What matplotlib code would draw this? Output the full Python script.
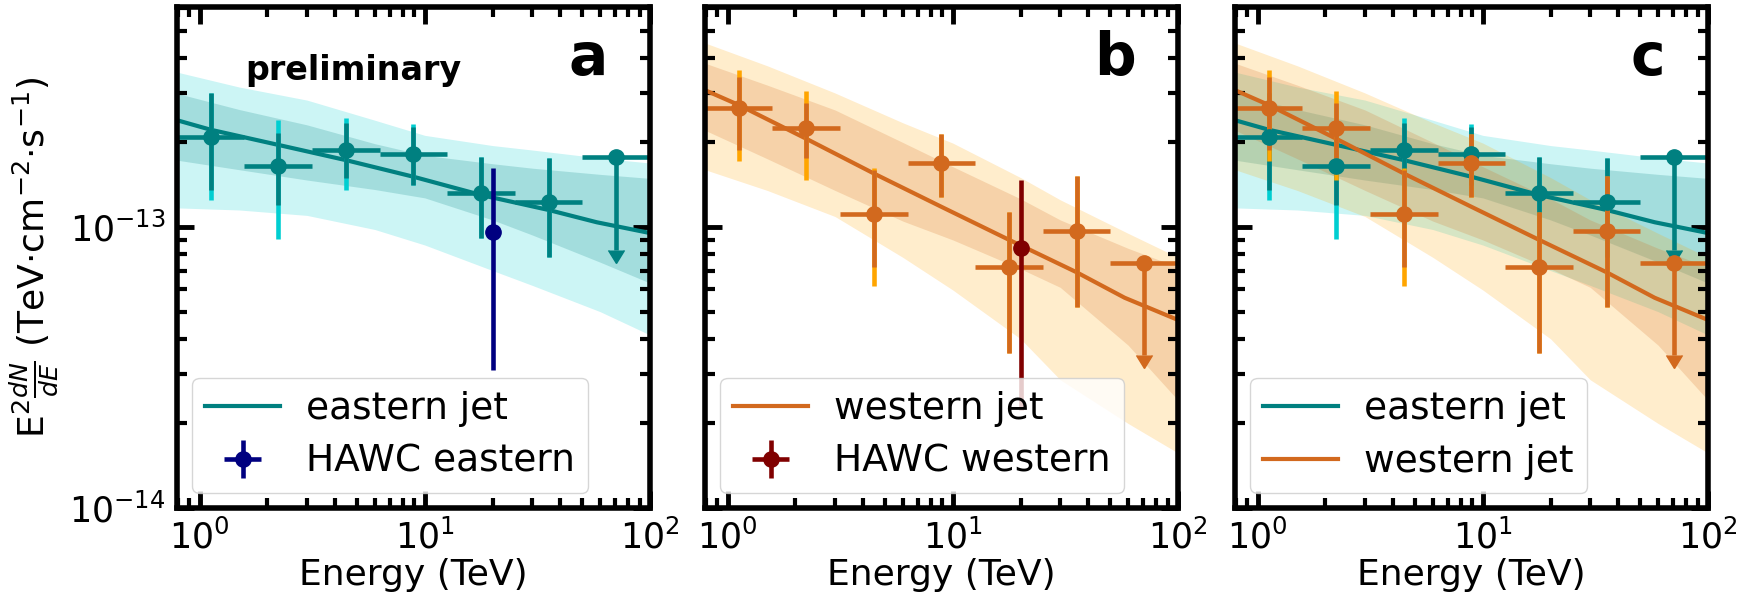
import numpy as np
import matplotlib.pyplot as plt
from matplotlib.ticker import FixedLocator, NullFormatter

# energy bins (TeV)
energy = [1.12, 2.24, 4.47, 8.91, 17.8, 35.5]
e_lo = [0.794, 1.58, 3.16, 6.31, 12.6, 25.1]
e_hi = [1.58, 3.16, 6.31, 12.6, 25.1, 50.1]
ul_energy = [70.8]
ul_lo = [50.1]
ul_hi = [100.0]

# eastern jet flux points (TeV cm-2 s-1)
east_flux = [2.09e-13, 1.65e-13, 1.88e-13, 1.82e-13, 1.32e-13, 1.23e-13]
east_stat_lo = [1.35e-13, 1.20e-13, 1.49e-13, 1.41e-13, 0.914e-13, 0.782e-13]
east_stat_hi = [2.99e-13, 2.16e-13, 2.34e-13, 2.27e-13, 1.77e-13, 1.76e-13]
east_tot_lo = [1.25e-13, 0.906e-13, 1.35e-13, 1.41e-13, 0.914e-13, 0.782e-13]
east_tot_hi = [2.99e-13, 2.40e-13, 2.44e-13, 2.32e-13, 1.77e-13, 1.76e-13]
east_ul = [1.77e-13]
east_ul_end = [0.83e-13]

# western jet flux points
west_flux = [2.65e-13, 2.25e-13, 1.11e-13, 1.69e-13, 0.72e-13, 0.97e-13]
west_stat_lo = [1.88e-13, 1.76e-13, 0.72e-13, 1.28e-13, 0.356e-13, 0.519e-13]
west_stat_hi = [3.42e-13, 2.76e-13, 1.60e-13, 2.14e-13, 1.13e-13, 1.52e-13]
west_tot_lo = [1.72e-13, 1.47e-13, 0.617e-13, 1.28e-13, 0.356e-13, 0.519e-13]
west_tot_hi = [3.62e-13, 3.06e-13, 1.62e-13, 2.14e-13, 1.13e-13, 1.52e-13]
west_ul = [0.745e-13]
west_ul_end = [0.35e-13]

# HAWC points
hawc_e = [20.0]
hawc_xerr = [0.0]
hawc_east = [0.96e-13]
hawc_east_lo = [0.31e-13]
hawc_east_hi = [1.62e-13]
hawc_west = [0.842e-13]
hawc_west_lo = [0.223e-13]
hawc_west_hi = [1.47e-13]

# best-fit models
model_e = [0.794, 1.12, 2.24, 4.47, 8.91, 17.8, 35.5, 58.0, 100.0]
east_model = [2.40e-13, 2.22e-13, 1.96e-13, 1.73e-13, 1.51e-13, 1.30e-13, 1.15e-13, 1.04e-13, 0.952e-13]
west_model = [3.07e-13, 2.72e-13, 2.06e-13, 1.55e-13, 1.18e-13, 0.90e-13, 0.69e-13, 0.56e-13, 0.467e-13]

# uncertainty bands
band_e = [0.794, 1.5, 3.0, 6.0, 10.0, 20.0, 30.0, 60.0, 100.0]
east_out_hi = [3.56e-13, 3.15e-13, 2.83e-13, 2.40e-13, 2.12e-13, 1.95e-13, 1.88e-13, 1.76e-13, 1.69e-13]
east_in_hi = [2.99e-13, 2.62e-13, 2.31e-13, 1.98e-13, 1.80e-13, 1.68e-13, 1.62e-13, 1.54e-13, 1.49e-13]
east_in_lo = [1.73e-13, 1.60e-13, 1.47e-13, 1.36e-13, 1.27e-13, 1.06e-13, 0.937e-13, 0.75e-13, 0.632e-13]
east_out_lo = [1.17e-13, 1.15e-13, 1.10e-13, 0.98e-13, 0.863e-13, 0.70e-13, 0.62e-13, 0.50e-13, 0.413e-13]
west_out_hi = [4.52e-13, 3.75e-13, 3.00e-13, 2.35e-13, 1.99e-13, 1.50e-13, 1.25e-13, 0.95e-13, 0.78e-13]
west_in_hi = [3.83e-13, 3.20e-13, 2.61e-13, 2.00e-13, 1.64e-13, 1.26e-13, 1.06e-13, 0.84e-13, 0.72e-13]
west_in_lo = [2.21e-13, 1.75e-13, 1.35e-13, 1.05e-13, 0.90e-13, 0.71e-13, 0.61e-13, 0.38e-13, 0.242e-13]
west_out_lo = [1.60e-13, 1.35e-13, 1.09e-13, 0.78e-13, 0.597e-13, 0.40e-13, 0.286e-13, 0.20e-13, 0.157e-13]

# axis ticks
x_major = [1, 10, 100]
y_major = [1e-14, 1e-13]

plt.rcParams['font.family'] = 'DejaVu Sans'
plt.rcParams['mathtext.fontset'] = 'dejavusans'

fig = plt.figure(figsize=(17.5, 5.96), dpi=100)
lefts = [177, 705, 1235]
axes = [fig.add_axes([l / 1750, 1 - 508 / 596, 473 / 1750, 501 / 596]) for l in lefts]


def asym(val, lo, hi):
    val = np.array(val)
    return [val - np.array(lo), np.array(hi) - val]


def draw_jet(ax, flux, stat_lo, stat_hi, tot_lo, tot_hi, ul, ul_end,
             out_hi, in_hi, in_lo, out_lo, model, col, light, label):
    ax.fill_between(band_e, out_lo, out_hi, color=light, alpha=0.2, lw=0)
    ax.fill_between(band_e, in_lo, in_hi, color=col, alpha=0.2, lw=0)
    ax.plot(model_e, model, color=col, lw=3, label=label)
    ax.errorbar(energy, flux, yerr=asym(flux, tot_lo, tot_hi), fmt='none',
                ecolor=light, elinewidth=3.3, capsize=0)
    xerr = [np.array(energy) - np.array(e_lo), np.array(e_hi) - np.array(energy)]
    ax.errorbar(energy, flux, yerr=asym(flux, stat_lo, stat_hi), xerr=xerr,
                fmt='o', color=col, ms=11, elinewidth=3.3, capsize=0)
    uxerr = [np.array(ul_energy) - np.array(ul_lo), np.array(ul_hi) - np.array(ul_energy)]
    ax.errorbar(ul_energy, ul, xerr=uxerr, fmt='o', color=col, ms=11,
                elinewidth=3.3, capsize=0)
    ax.errorbar(ul_energy, ul, yerr=[np.array(ul) - np.array(ul_end), [0]],
                uplims=True, fmt='none', color=col, ecolor=col,
                elinewidth=3.3, capsize=6)


east_args = (east_flux, east_stat_lo, east_stat_hi, east_tot_lo, east_tot_hi,
             east_ul, east_ul_end, east_out_hi, east_in_hi, east_in_lo,
             east_out_lo, east_model, 'teal', 'darkturquoise', 'eastern jet')
west_args = (west_flux, west_stat_lo, west_stat_hi, west_tot_lo, west_tot_hi,
             west_ul, west_ul_end, west_out_hi, west_in_hi, west_in_lo,
             west_out_lo, west_model, 'chocolate', 'orange', 'western jet')

# a
draw_jet(axes[0], *east_args)
axes[0].errorbar(hawc_e, hawc_east, xerr=hawc_xerr,
                 yerr=asym(hawc_east, hawc_east_lo, hawc_east_hi),
                 fmt='o', color='navy', ms=11, elinewidth=3.3, capsize=0,
                 label='HAWC eastern')
axes[0].text(0.144, 0.854, 'preliminary', transform=axes[0].transAxes,
             fontsize=24, fontweight='bold', va='baseline')

# b
draw_jet(axes[1], *west_args)
axes[1].errorbar(hawc_e, hawc_west, xerr=hawc_xerr,
                 yerr=asym(hawc_west, hawc_west_lo, hawc_west_hi),
                 fmt='o', color='maroon', ms=11, elinewidth=3.3, capsize=0,
                 label='HAWC western')

# c
draw_jet(axes[2], *east_args)
draw_jet(axes[2], *west_args)

x_minor = [m * d for d in (0.1, 1, 10) for m in range(2, 10) if 0.794 <= m * d <= 100]
y_minor = [m * d for d in (1e-14, 1e-13) for m in range(2, 10) if m * d <= 6.07e-13]

for ax, letter in zip(axes, ['a', 'b', 'c']):
    ax.set_xscale('log')
    ax.set_yscale('log')
    ax.set_xlim(0.794, 100)
    ax.set_ylim(1e-14, 6.07e-13)
    ax.set_xticks(x_major)
    ax.set_yticks(y_major)
    ax.xaxis.set_minor_locator(FixedLocator(x_minor))
    ax.yaxis.set_minor_locator(FixedLocator(y_minor))
    ax.xaxis.set_minor_formatter(NullFormatter())
    ax.yaxis.set_minor_formatter(NullFormatter())
    ax.tick_params(which='both', direction='in', top=True, right=True,
                   labelsize=25)
    ax.tick_params(which='major', length=12, width=3.5, pad=8)
    ax.tick_params(which='minor', length=7, width=3)
    for s in ax.spines.values():
        s.set_linewidth(4)
    ax.set_xlabel('Energy (TeV)', fontsize=26, labelpad=2)
    ax.text(0.91, 0.864, letter, transform=ax.transAxes, fontsize=42,
            fontweight='bold', ha='right', va='baseline')
    ax.legend(loc='lower left', fontsize=27, handlelength=2.0,
              handletextpad=0.7, labelspacing=0.45, borderpad=0.35,
              borderaxespad=0.4)
    if ax is not axes[0]:
        ax.tick_params(labelleft=False)

axes[0].set_ylabel('E$^2\\frac{dN}{dE}$ (TeV·cm$^{-2}$·s$^{-1}$)',
                   fontsize=26, labelpad=6)

fig.savefig('out.png', dpi=100)
